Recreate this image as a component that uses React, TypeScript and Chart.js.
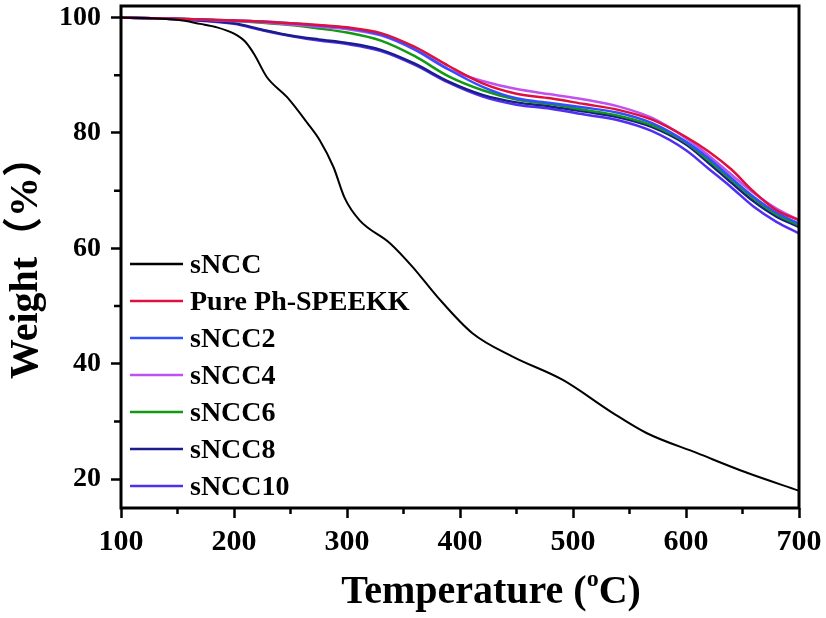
import { Chart, registerables } from "chart.js";
import { useEffect, useRef } from "react";

Chart.register(...registerables);

// sNCC has its own temperature grid
const sNCCTemps = [100, 150, 170, 185, 200, 210, 218, 229, 247, 265, 276, 288, 298, 311, 338, 358, 380, 411, 447, 491, 535, 565, 610, 654, 700];
const sNCC = [100, 99.6, 98.9, 98.3, 97.2, 95.8, 93.6, 89.7, 86.2, 81.7, 78.7, 74.1, 68.7, 64.9, 60.9, 56.8, 51.6, 45.3, 41.2, 37.2, 31.5, 28.0, 24.5, 21.1, 18.0];

// membranes share one grid
const temps = [100, 150, 200, 225, 250, 275, 300, 330, 360, 390, 420, 450, 480, 510, 540, 570, 600, 620, 640, 660, 680, 700];
const pure = [100, 99.8, 99.5, 99.3, 99.0, 98.7, 98.3, 97.3, 94.9, 91.6, 88.6, 86.8, 86.0, 85.0, 84.0, 82.3, 79.3, 76.8, 73.7, 69.8, 66.6, 64.9];
const sNCC2 = [100, 99.8, 99.5, 99.3, 99.0, 98.6, 98.2, 97.0, 94.5, 91.0, 88.0, 86.0, 85.2, 84.4, 83.5, 81.7, 78.5, 75.6, 72.2, 68.9, 66.2, 64.3];
const sNCC4 = [100, 99.8, 99.4, 99.2, 98.8, 98.4, 98.0, 96.9, 94.4, 91.0, 89.0, 87.6, 86.7, 85.8, 84.6, 82.6, 79.1, 76.1, 72.8, 69.6, 66.9, 64.9];
const sNCC6 = [100, 99.8, 99.4, 99.1, 98.7, 98.1, 97.4, 96.0, 93.3, 89.8, 87.4, 85.8, 85.0, 84.0, 83.0, 81.3, 78.3, 75.2, 71.9, 68.6, 65.9, 64.0];
const sNCC8 = [100, 99.7, 99.0, 97.9, 96.9, 96.2, 95.6, 94.4, 92.0, 88.9, 86.6, 85.3, 84.6, 83.7, 82.7, 81.0, 78.0, 74.8, 71.4, 68.1, 65.5, 63.7];
const sNCC10 = [100, 99.7, 98.9, 97.8, 96.8, 96.0, 95.4, 94.2, 91.8, 88.7, 86.3, 84.9, 84.2, 83.2, 82.2, 80.3, 77.0, 73.8, 70.6, 67.2, 64.6, 62.6];

// labelled (major) ticks and all tick positions
const xTicks = [100, 200, 300, 400, 500, 600, 700];
const xAllTicks = [100, 150, 200, 250, 300, 350, 400, 450, 500, 550, 600, 650, 700];
const yTicks = [20, 40, 60, 80, 100];
const yAllTicks = [20, 30, 40, 50, 60, 70, 80, 90, 100];

const SERIF = '"Liberation Serif", "Times New Roman", serif';

const pts = (xs: number[], ys: number[]) => xs.map((x, i) => ({ x, y: ys[i] }));

const decor = {
    id: "decor",
    afterDraw(chart: any) {
        const { ctx, chartArea: a, scales } = chart;
        ctx.save();
        ctx.strokeStyle = "#000";
        ctx.fillStyle = "#000";

        // frame
        ctx.lineWidth = 3;
        ctx.strokeRect(a.left, a.top, a.right - a.left, a.bottom - a.top);

        // minor ticks
        ctx.lineWidth = 2.5;
        ctx.beginPath();
        for (const v of xAllTicks) {
            if (xTicks.includes(v)) continue;
            const px = scales.x.getPixelForValue(v);
            ctx.moveTo(px, a.bottom);
            ctx.lineTo(px, a.bottom + 6);
        }
        for (const v of yAllTicks) {
            if (yTicks.includes(v)) continue;
            const py = scales.y.getPixelForValue(v);
            ctx.moveTo(a.left, py);
            ctx.lineTo(a.left - 7, py);
        }
        ctx.stroke();

        // legend inside the plot
        ctx.font = `bold 28px ${SERIF}`;
        ctx.textAlign = "left";
        ctx.textBaseline = "alphabetic";
        chart.data.datasets.forEach((ds: any, i: number) => {
            const y = 264 + i * 37;
            ctx.strokeStyle = ds.borderColor;
            ctx.lineWidth = 2.5;
            ctx.beginPath();
            ctx.moveTo(130, y);
            ctx.lineTo(183, y);
            ctx.stroke();
            ctx.fillText(ds.label, 190, y + 9);
        });

        // x title with superscript o
        const cx = (a.left + a.right) / 2 + 31;
        const base = 603;
        const big = `bold 40px ${SERIF}`;
        const small = `bold 24px ${SERIF}`;
        ctx.font = big;
        const w1 = ctx.measureText("Temperature (").width;
        const w3 = ctx.measureText("C)").width;
        ctx.font = small;
        const w2 = ctx.measureText("o").width;
        let x = cx - (w1 + w2 + w3) / 2;
        ctx.font = big;
        ctx.fillText("Temperature (", x, base);
        x += w1;
        ctx.font = small;
        ctx.fillText("o", x, base - 17);
        x += w2;
        ctx.font = big;
        ctx.fillText("C)", x, base);

        // y title
        ctx.translate(37, 258);
        ctx.rotate(-Math.PI / 2);
        ctx.textAlign = "center";
        ctx.font = `bold 40px ${SERIF}, "Noto Sans CJK SC"`;
        ctx.fillText("Weight（%）", 0, 0);

        ctx.restore();
    },
};

export default function App() {
    const canvasRef = useRef<HTMLCanvasElement>(null);

    useEffect(() => {
        if (!canvasRef.current) return;
        const line = (label: string, color: string, xs: number[], ys: number[], width = 2.5) => ({
            label,
            data: pts(xs, ys),
            borderColor: color,
            borderWidth: width,
            pointRadius: 0,
            fill: false,
            cubicInterpolationMode: "monotone" as const,
        });

        const chart = new Chart(canvasRef.current, {
            type: "line",
            data: {
                datasets: [
                    line("sNCC", "#000000", sNCCTemps, sNCC, 2),
                    line("Pure Ph-SPEEKK", "#e0103c", temps, pure),
                    line("sNCC2", "#3050ff", temps, sNCC2),
                    line("sNCC4", "#c050f0", temps, sNCC4),
                    line("sNCC6", "#119911", temps, sNCC6),
                    line("sNCC8", "#1c1c8c", temps, sNCC8),
                    line("sNCC10", "#5030f0", temps, sNCC10),
                ],
            },
            options: {
                responsive: false,
                animation: false,
                layout: { padding: { top: 6, right: 27, left: 0, bottom: 0 } },
                plugins: {
                    legend: { display: false },
                    tooltip: { enabled: false },
                },
                scales: {
                    x: {
                        type: "linear",
                        min: 100,
                        max: 700,
                        afterFit: (s: any) => {
                            s.height = 110;
                            s.paddingLeft = 0;
                            s.paddingRight = 0;
                        },
                        afterBuildTicks: (s: any) => {
                            s.ticks = xTicks.map((v) => ({ value: v }));
                        },
                        ticks: {
                            autoSkip: false,
                            maxRotation: 0,
                            padding: 6,
                            color: "#000",
                            font: { family: SERIF, size: 30, weight: "bold" },
                        },
                        grid: {
                            drawOnChartArea: false,
                            drawTicks: true,
                            tickLength: 10,
                            tickWidth: 2.5,
                            tickColor: "#000",
                        },
                        border: { display: false },
                    },
                    y: {
                        min: 15,
                        max: 102,
                        afterFit: (s: any) => {
                            s.width = 121;
                            s.paddingTop = 0;
                            s.paddingBottom = 0;
                        },
                        afterBuildTicks: (s: any) => {
                            s.ticks = yTicks.map((v) => ({ value: v }));
                        },
                        ticks: {
                            autoSkip: false,
                            padding: 10,
                            color: "#000",
                            font: { family: SERIF, size: 28, weight: "bold" },
                        },
                        grid: {
                            drawOnChartArea: false,
                            drawTicks: true,
                            tickLength: 10,
                            tickWidth: 2.5,
                            tickColor: "#000",
                        },
                        border: { display: false },
                    },
                },
            },
            plugins: [decor],
        });

        return () => chart.destroy();
    }, []);

    return (
        <div style={{ position: "absolute", left: 0, top: 0, width: 826, height: 618, background: "#fff" }}>
            <canvas ref={canvasRef} width={826} height={618}></canvas>
        </div>
    );
}
